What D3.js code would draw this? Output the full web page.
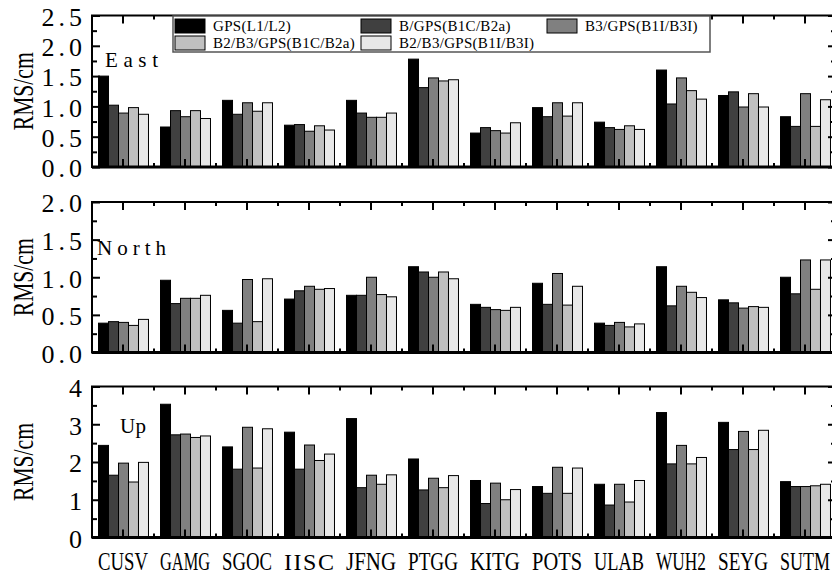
<!DOCTYPE html>
<html><head><meta charset="utf-8">
<script src="https://cdn.jsdelivr.net/npm/d3@7"></script>
<style>body{margin:0;background:#fff} svg{display:block}</style>
</head><body><svg id="c" width="832" height="574"></svg>
<script>
const stations = ["CUSV","GAMG","SGOC","IISC","JFNG","PTGG","KITG","POTS","ULAB","WUH2","SEYG","SUTM"];
const seriesNames = ["GPS(L1/L2)","B/GPS(B1C/B2a)","B3/GPS(B1I/B3I)","B2/B3/GPS(B1C/B2a)","B2/B3/GPS(B1I/B3I)"];
const seriesColors = ["#000000","#404040","#808080","#c0c0c0","#e8e8e8"];

const eastGPS   = [1.50,0.66,1.10,0.69,1.10,1.78,0.56,0.98,0.74,1.60,1.18,0.83];
const eastBGPS  = [1.02,0.93,0.87,0.70,0.89,1.31,0.65,0.83,0.65,1.04,1.24,0.67];
const eastB3    = [0.89,0.83,1.06,0.59,0.82,1.47,0.60,1.06,0.62,1.47,0.99,1.21];
const eastB23C  = [0.98,0.93,0.92,0.68,0.82,1.42,0.56,0.84,0.68,1.26,1.21,0.67];
const eastB23I  = [0.87,0.80,1.06,0.61,0.89,1.44,0.73,1.06,0.62,1.12,0.99,1.11];

const northGPS  = [0.39,0.96,0.56,0.71,0.76,1.14,0.64,0.92,0.39,1.14,0.70,1.00];
const northBGPS = [0.41,0.65,0.39,0.82,0.76,1.07,0.60,0.64,0.36,0.62,0.66,0.78];
const northB3   = [0.40,0.72,0.97,0.88,1.00,1.00,0.57,1.05,0.40,0.88,0.59,1.23];
const northB23C = [0.36,0.72,0.41,0.84,0.77,1.07,0.56,0.63,0.34,0.80,0.61,0.84];
const northB23I = [0.44,0.76,0.98,0.85,0.74,0.98,0.60,0.88,0.38,0.73,0.60,1.23];

const upGPS     = [2.44,3.53,2.40,2.79,3.15,2.08,1.51,1.35,1.41,3.31,3.05,1.48];
const upBGPS    = [1.65,2.72,1.81,1.81,1.32,1.26,0.90,1.17,0.86,1.95,2.33,1.35];
const upB3      = [1.97,2.74,2.92,2.45,1.65,1.57,1.44,1.86,1.41,2.44,2.81,1.35];
const upB23C    = [1.47,2.65,1.84,2.04,1.41,1.32,1.00,1.17,0.94,1.95,2.33,1.37];
const upB23I    = [1.99,2.69,2.88,2.21,1.66,1.64,1.27,1.84,1.51,2.12,2.84,1.41];

const panelTitles = ["East","North","Up"];
const yMax = [2.5, 2.0, 4];
const yMajor = [0.5, 0.5, 1];
const yMinor = [0.25, 0.25, 0.5];
const yLabel = "RMS/cm";

const panels = [
  {title:panelTitles[0], max:yMax[0], major:yMajor[0], minor:yMinor[0], fmt:d3.format(".1f"),
   data:[eastGPS,eastBGPS,eastB3,eastB23C,eastB23I], top:15.5, bottom:167, tx:105, ty:67, tw:53},
  {title:panelTitles[1], max:yMax[1], major:yMajor[1], minor:yMinor[1], fmt:d3.format(".1f"),
   data:[northGPS,northBGPS,northB3,northB23C,northB23I], top:202, bottom:352.5, tx:97, ty:255, tw:69},
  {title:panelTitles[2], max:yMax[2], major:yMajor[2], minor:yMinor[2], fmt:d3.format("d"),
   data:[upGPS,upBGPS,upB3,upB23C,upB23I], top:386.5, bottom:537.5, tx:120, ty:433, tw:26}
];

const svg = d3.select("#c");
const L = 92, R = 836;
const x0 = d3.scaleBand().domain(stations).range([L, R]).paddingInner(0.194).paddingOuter(0.097);
const x1 = d3.scaleBand().domain(d3.range(seriesNames.length)).range([0, x0.bandwidth()]);
const FONT = "'Liberation Serif', 'DejaVu Serif', serif";

panels.forEach((p, pi) => {
  const y = d3.scaleLinear().domain([0, p.max]).range([p.bottom, p.top]);
  const g = svg.append("g");

  // bars
  const rows = [];
  stations.forEach((st, i) => p.data.forEach((arr, k) => rows.push({st, k, v: arr[i]})));
  g.selectAll("rect.bar").data(rows).join("rect").attr("class","bar")
    .attr("x", d => x0(d.st) + x1(d.k) + 0.5)
    .attr("y", d => y(d.v))
    .attr("width", x1.bandwidth())
    .attr("height", d => y(0) - y(d.v))
    .attr("fill", d => seriesColors[d.k])
    .attr("stroke", "#000").attr("stroke-width", 1);

  const majors = d3.range(0, p.max + 1e-9, p.major);
  const minors = d3.range(p.minor, p.max, p.major);

  // left axis major with labels
  const la = g.append("g").attr("transform", `translate(${L},0)`)
    .call(d3.axisLeft(y).tickValues(majors).tickSize(-8).tickPadding(pi < 2 ? 6 : 10).tickFormat(p.fmt));
  la.select(".domain").remove();
  la.selectAll("line").attr("stroke","#000").attr("stroke-width",2);
  la.selectAll("text").attr("font-family", FONT).attr("font-size", 26).attr("fill","#000")
    .attr("letter-spacing", pi < 2 ? 4 : 0).attr("dy","0.38em");
  // left minor
  const lm = g.append("g").attr("transform", `translate(${L},0)`)
    .call(d3.axisLeft(y).tickValues(minors).tickSize(-5).tickFormat(""));
  lm.select(".domain").remove();
  lm.selectAll("line").attr("stroke","#000").attr("stroke-width",2);
  // right axis
  const ra = g.append("g").attr("transform", `translate(${R},0)`)
    .call(d3.axisRight(y).tickValues(majors).tickSize(-8).tickFormat(""));
  ra.select(".domain").remove();
  ra.selectAll("line").attr("stroke","#000").attr("stroke-width",2);
  const rm = g.append("g").attr("transform", `translate(${R},0)`)
    .call(d3.axisRight(y).tickValues(minors).tickSize(-5).tickFormat(""));
  rm.select(".domain").remove();
  rm.selectAll("line").attr("stroke","#000").attr("stroke-width",2);

  // x ticks at group centres (top & bottom), inward
  const xb = g.append("g").attr("transform", `translate(0,${p.bottom})`)
    .call(d3.axisBottom(x0).tickSize(-8).tickFormat(pi === 2 ? (d => d) : ""));
  xb.select(".domain").remove();
  xb.selectAll("line").attr("stroke","#000").attr("stroke-width",2);
  if (pi === 2) {
    xb.selectAll("text").attr("font-family", FONT).attr("font-size", 24).attr("fill","#000")
      .attr("y", 0).attr("dy", 0)
      .each(function() {
        const len = this.getComputedTextLength();
        const t = d3.select(this);
        if (len > 50) {
          t.attr("transform", `translate(0,32) scale(${50 / len},1.02)`);
        } else {
          t.attr("transform", "translate(0,32)").attr("textLength", 50).attr("lengthAdjust", "spacing");
        }
      });
  }
  const xt = g.append("g").attr("transform", `translate(0,${p.top})`)
    .call(d3.axisTop(x0).tickSize(-8).tickFormat(""));
  xt.select(".domain").remove();
  xt.selectAll("line").attr("stroke","#000").attr("stroke-width",2);

  // minor x ticks at group boundaries
  const bounds = stations.slice(1).map(s => x0(s) + x0.bandwidth()/2 - x0.step()/2);
  g.selectAll("line.xmb").data(bounds).join("line").attr("class","xmb")
    .attr("x1", d => d).attr("x2", d => d).attr("y1", p.bottom).attr("y2", p.bottom - 4)
    .attr("stroke","#000").attr("stroke-width",2);
  g.selectAll("line.xmt").data(bounds).join("line").attr("class","xmt")
    .attr("x1", d => d).attr("x2", d => d).attr("y1", p.top).attr("y2", p.top + 4)
    .attr("stroke","#000").attr("stroke-width",2);

  // frame
  g.append("rect").attr("x", L).attr("y", p.top).attr("width", R - L).attr("height", p.bottom - p.top)
    .attr("fill","none").attr("stroke","#000").attr("stroke-width",2);
  g.append("line").attr("x1", L).attr("x2", R).attr("y1", p.bottom).attr("y2", p.bottom)
    .attr("stroke","#000").attr("stroke-width",3);

  // panel title
  g.append("text").attr("x", p.tx).attr("y", p.ty).text(p.title)
    .attr("font-family", FONT).attr("font-size", 21).attr("fill","#000")
    .attr("textLength", p.tw).attr("lengthAdjust","spacing");

  // y label
  const cy = (p.top + p.bottom) / 2;
  const yl = g.append("text").attr("text-anchor","middle").text(yLabel)
    .attr("font-family", FONT).attr("font-size", 29).attr("fill","#000");
  const ylen = yl.node().getComputedTextLength();
  yl.attr("transform", `translate(33,${cy}) rotate(-90) scale(${78 / ylen},1)`);
});

// legend
const lg = svg.append("g");
lg.append("rect").attr("x", 173).attr("y", 16).attr("width", 537).attr("height", 36)
  .attr("fill","#fff").attr("stroke","#555").attr("stroke-width",1.5);
const colX = [175, 361, 547];
const rowY = [19, 36];
const pos = [[0,0],[1,0],[2,0],[0,1],[1,1]];
const items = lg.selectAll("g.item").data(seriesNames).join("g").attr("class","item")
  .attr("transform", (d,i) => `translate(${colX[pos[i][0]]},${rowY[pos[i][1]]})`);
items.append("rect").attr("width", 30).attr("height", 14)
  .attr("fill", (d,i) => seriesColors[i]).attr("stroke","#000").attr("stroke-width",1);
items.append("text").attr("x", 38).attr("y", 12).text(d => d)
  .attr("font-family", FONT).attr("font-size", 15).attr("letter-spacing", 0.3).attr("fill","#000");
</script></body></html>
